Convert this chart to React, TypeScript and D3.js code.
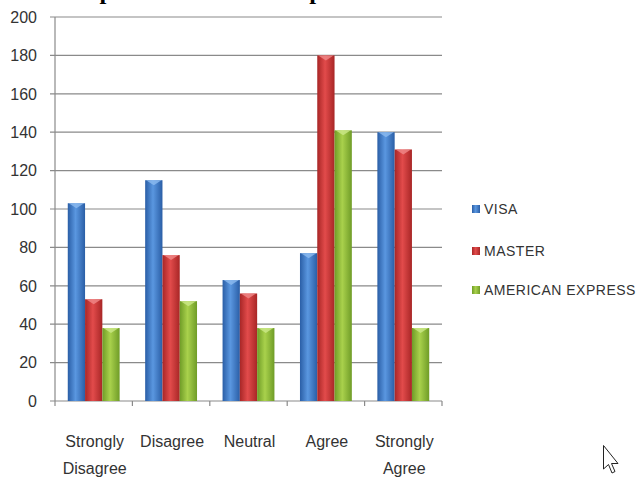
import React from "react";
import * as d3 from "d3";

const categories = ["Strongly Disagree", "Disagree", "Neutral", "Agree", "Strongly Agree"];
const categoryLines = [["Strongly", "Disagree"], ["Disagree"], ["Neutral"], ["Agree"], ["Strongly", "Agree"]];
const seriesNames = ["VISA", "MASTER", "AMERICAN EXPRESS"];
const visa = [103, 115, 63, 77, 140];
const master = [53, 76, 56, 180, 131];
const amex = [38, 52, 38, 141, 38];
const yTicks = [0, 20, 40, 60, 80, 100, 120, 140, 160, 180, 200];
const titleText = "Comparison of card companies";

const W = 637, H = 477;
const colors = [
  { edge: "#2a5ea6", mid: "#5a97e0", cap: "#8dbbf0" },
  { edge: "#a82626", mid: "#e24b4b", cap: "#f08a8a" },
  { edge: "#6f9c27", mid: "#a9d14c", cap: "#cce88a" },
];

export default function App() {
  const series = [visa, master, amex];
  const x0 = d3.scaleBand<string>().domain(categories).range([55, 442]).paddingInner(0).paddingOuter(0);
  const inner = x0.bandwidth() * 0.67;
  const x1 = d3.scaleBand<string>().domain(seriesNames).range([0, inner]).padding(0);
  const y = d3.scaleLinear().domain([0, 200]).range([401, 17]);
  const font = "'Liberation Sans', Arial, sans-serif";
  const textColor = "#333";

  return (
    <div style={{ position: "absolute", left: 0, top: 0, width: W, height: H, overflow: "hidden", background: "#fff" }}>
      <svg width={W} height={H} style={{ display: "block" }}>
        <defs>
          {colors.map((c, i) => (
            <linearGradient key={i} id={`g${i}`} x1="0" x2="1" y1="0" y2="0">
              <stop offset="0" stopColor={c.edge} />
              <stop offset="0.45" stopColor={c.mid} />
              <stop offset="1" stopColor={c.edge} />
            </linearGradient>
          ))}
        </defs>
        <text x={49} y={-1.5} fontFamily="'Liberation Serif', 'Times New Roman', serif" fontWeight="bold" fontSize={24.6} fill="#000">
          {titleText}
        </text>
        {/* gridlines */}
        {yTicks.map((t) => (
          <g key={t}>
            <line x1={50} x2={442} y1={y(t)} y2={y(t)} stroke="#8a8a8a" strokeWidth={1.2} />
            <text x={37} y={y(t) + 1.5} textAnchor="end" dominantBaseline="middle" fontFamily={font} fontSize={16} fill={textColor}>
              {t}
            </text>
          </g>
        ))}
        <line x1={55} x2={55} y1={y(200)} y2={y(0) + 5} stroke="#8a8a8a" strokeWidth={1.2} />
        {categories.map((c) => (
          <line key={c} x1={x0(c)! + x0.bandwidth()} x2={x0(c)! + x0.bandwidth()} y1={y(0)} y2={y(0) + 5} stroke="#8a8a8a" strokeWidth={1.2} />
        ))}
        {/* bars */}
        {categories.map((c, ci) => (
          <g key={c} transform={`translate(${x0(c)! + (x0.bandwidth() - inner) / 2},0)`}>
            {series.map((s, si) => {
              const bx = x1(seriesNames[si])!;
              const bw = x1.bandwidth();
              const top = y(s[ci]);
              const h = y(0) - top;
              const capH = Math.min(5, h);
              return (
                <g key={si}>
                  <rect x={bx} y={top} width={bw} height={h} fill={`url(#g${si})`} />
                  <polygon
                    points={`${bx + 1},${top} ${bx + bw - 1},${top} ${bx + bw / 2},${top + capH}`}
                    fill={colors[si].cap}
                    opacity={0.8}
                  />
                </g>
              );
            })}
          </g>
        ))}
        {/* category labels */}
        {categories.map((c, i) => (
          <text key={c} textAnchor="middle" fontFamily={font} fontSize={16} fill={textColor}>
            {categoryLines[i].map((ln, li) => (
              <tspan key={li} x={x0(c)! + x0.bandwidth() / 2 + 1} y={447 + li * 27}>
                {ln}
              </tspan>
            ))}
          </text>
        ))}
        {/* legend */}
        {seriesNames.map((n, i) => {
          const cy = [209, 251, 290][i];
          return (
            <g key={n}>
              <rect x={472} y={cy - 4} width={8} height={8} fill={`url(#g${i})`} />
              <text x={484} y={cy + 1} dominantBaseline="middle" fontFamily={font} fontSize={14} letterSpacing={0.5} fill={textColor}>
                {n}
              </text>
            </g>
          );
        })}
        {/* mouse cursor */}
        <path
          d="M603.5,445.5 L603.5,469 L608.5,464.5 L612,473 L615,471.5 L611.5,463.5 L618,463.5 Z"
          fill="#fff"
          stroke="#222"
          strokeWidth={1}
        />
      </svg>
    </div>
  );
}
